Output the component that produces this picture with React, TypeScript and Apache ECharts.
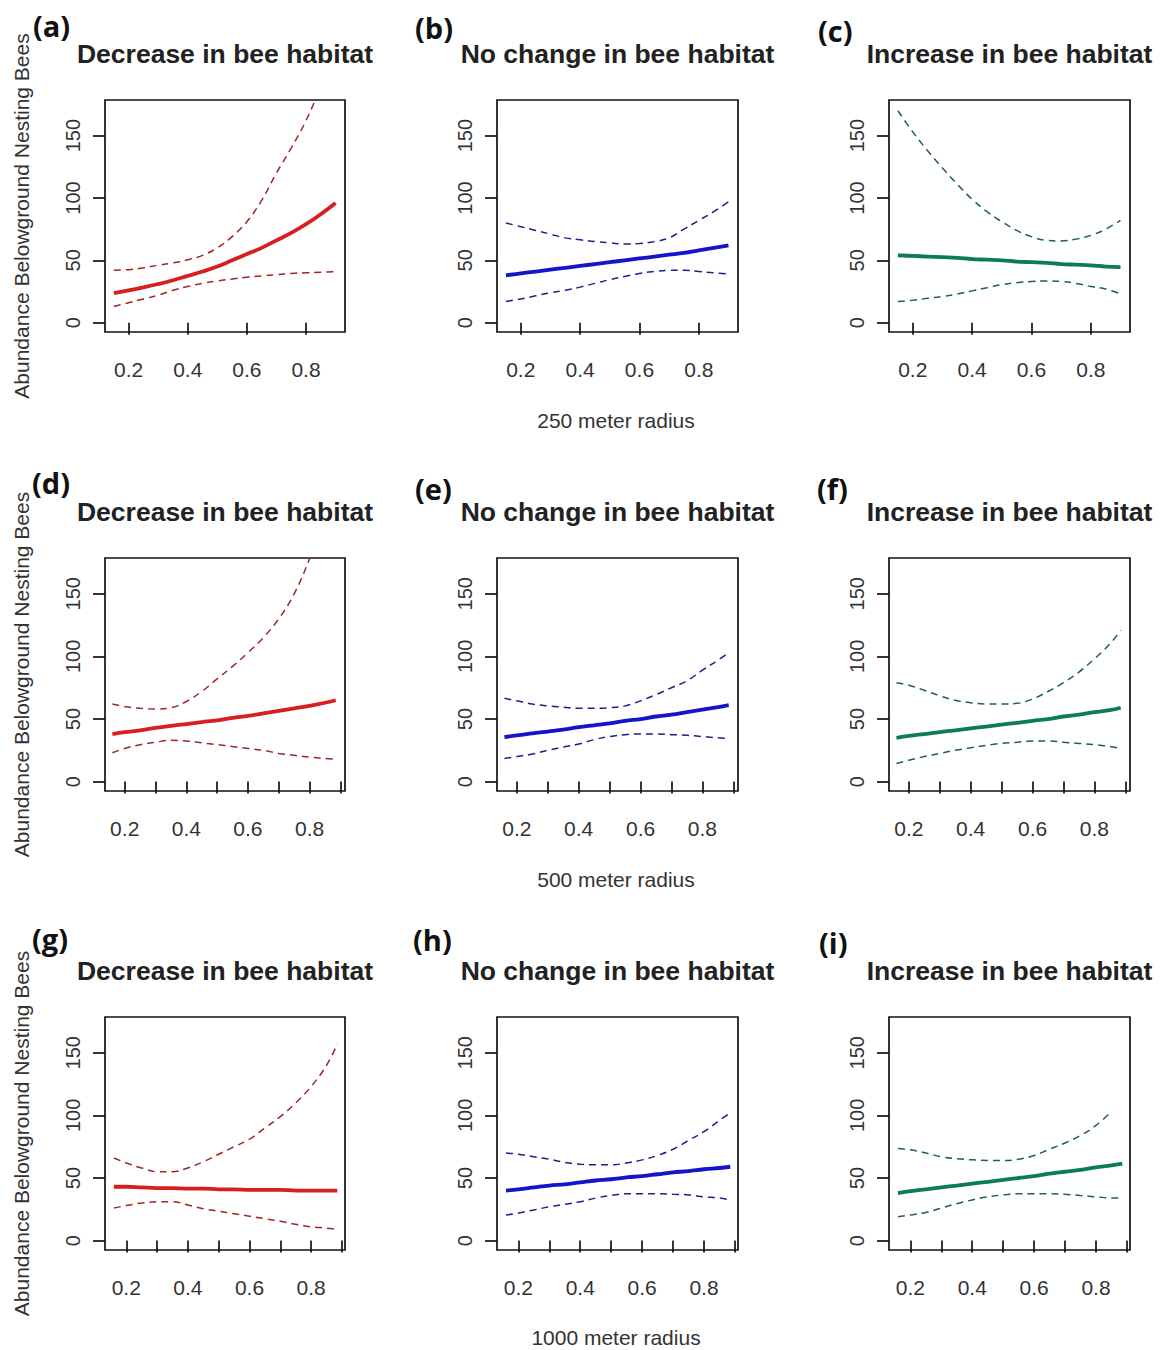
import React, { useEffect, useRef } from "react";
import * as echarts from "echarts";

// x grids of the fitted curves
const XS1 = [0.15, 0.2, 0.25, 0.3, 0.35, 0.4, 0.45, 0.5, 0.55, 0.6, 0.65, 0.7, 0.75, 0.8, 0.85, 0.9];
const XS23 = [0.16, 0.2, 0.25, 0.3, 0.35, 0.4, 0.45, 0.5, 0.55, 0.6, 0.65, 0.7, 0.75, 0.8, 0.85, 0.885];

// (a) 250 m, decrease
const FIT_A = [23.6, 25.8, 28.3, 31, 34, 37.5, 41, 45, 50, 55, 60, 66, 72, 79, 87, 96];
const UP_A = [42, 42.5, 44, 46, 48, 50.5, 54, 60, 69, 81, 98, 120, 140, 162, 190, 225];
const LO_A = [13, 16, 19, 22, 26, 29, 31.5, 33.5, 35, 36.5, 37.5, 38.5, 39.5, 40, 40.5, 41];
// (b) 250 m, no change
const FIT_B = [38, 39.5, 41, 42.5, 44, 45.5, 47, 48.5, 50, 51.5, 53, 54.5, 56, 58, 60, 62];
const UP_B = [80, 77, 74, 71, 68, 66.5, 65, 64, 63, 63.5, 65, 68, 75, 82, 89, 97];
const LO_B = [17, 19, 21.5, 24, 26, 28.5, 31.5, 34.5, 37, 39.5, 41, 42, 42, 41, 40, 39];
// (c) 250 m, increase
const FIT_C = [54, 53.5, 53, 52.5, 52, 51, 50.5, 50, 49, 48.5, 48, 47, 46.5, 46, 45, 44.5];
const UP_C = [170, 153, 138, 124, 111, 99, 89, 81, 74, 69, 66, 65.5, 67, 70, 75, 82];
const LO_C = [17, 18, 19.5, 21, 23, 25.5, 28, 30.5, 32, 33, 33.5, 33, 31.5, 29, 27, 23];
// (d) 500 m, decrease
const FIT_D = [38, 39.5, 41, 43, 44.5, 46, 47.5, 49, 51, 52.5, 54.5, 56.5, 58.5, 60.5, 63, 65];
const UP_D = [62, 60, 58.5, 58, 59, 64, 72, 82, 92, 103, 115, 130, 150, 178, 212, 240];
const LO_D = [23, 26.5, 29.5, 31.5, 33, 32.5, 31, 29.5, 28, 26.5, 25, 22.5, 21, 19.5, 18.5, 18];
// (e) 500 m, no change
const FIT_E = [35.5, 37, 38.5, 40, 41.5, 43.5, 45, 46.5, 48.5, 50, 52, 53.5, 55.5, 57.5, 59.5, 61];
const UP_E = [66.5, 64.5, 62, 60.5, 59.5, 58.5, 58.5, 59, 60.5, 64.5, 69.5, 75, 80.5, 89, 97, 103];
const LO_E = [18.5, 20, 22, 25, 27.5, 30, 33.5, 36, 37.5, 38, 38, 37.5, 37, 36, 35, 34.5];
// (f) 500 m, increase
const FIT_F = [35, 36.5, 38, 39.5, 41, 42.5, 44, 45.5, 47, 48.5, 50, 52, 53.5, 55.5, 57, 59];
const UP_F = [79, 77, 73, 68.5, 65, 63, 62, 62, 62.5, 66, 72, 79, 87.5, 98, 110, 121];
const LO_F = [14.5, 17, 20, 22.5, 25, 27, 29, 30.5, 31.5, 32.5, 32.5, 31.5, 30.5, 29.5, 28, 26.5];
// (g) 1000 m, decrease
const FIT_G = [43, 43, 42.5, 42, 42, 41.5, 41.5, 41, 41, 40.5, 40.5, 40.5, 40, 40, 40, 40];
const UP_G = [66, 62, 58, 55, 55, 58, 63, 69, 75, 81, 90, 99, 110, 123, 140, 157];
const LO_G = [26, 28, 30, 31, 31, 28.5, 25.5, 23.5, 21.5, 19.5, 17.5, 15.5, 13, 11, 10, 9];
// (h) 1000 m, no change
const FIT_H = [40, 41, 42.5, 44, 45, 46.5, 48, 49, 50.5, 51.5, 53, 54.5, 55.5, 57, 58, 59];
const UP_H = [70, 69, 67, 65, 62.5, 61, 60.5, 60.5, 62, 64.5, 68, 73, 80, 87, 96, 102];
const LO_H = [20.5, 22, 24.5, 27, 29, 31, 34, 36, 37.5, 37.5, 37.5, 37, 36.5, 35, 34, 32.5];
// (i) 1000 m, increase
const FIT_I = [38, 39.5, 41, 42.5, 44, 45.5, 47, 48.5, 50, 51.5, 53.5, 55, 56.5, 58.5, 60, 61.5];
const UP_I = [73.5, 72.5, 70, 67, 65.5, 64.5, 64, 64, 65, 68, 73, 78, 84, 92, 103, null];
const LO_I = [19, 20.5, 22.5, 26, 29.5, 32.5, 35, 36.5, 37.5, 37.5, 37.5, 37, 36, 35, 34, 34];

// axis ticks
const Y_TICKS = [0, 50, 100, 150];
const X_LABELS = [0.2, 0.4, 0.6, 0.8];
const X_TICKS_ROW1 = [0.2, 0.4, 0.6, 0.8];
const X_TICKS_ROW23 = [0.2, 0.3, 0.4, 0.5, 0.6, 0.7, 0.8, 0.9];

// texts
const PANEL_TAGS = ["(a)", "(b)", "(c)", "(d)", "(e)", "(f)", "(g)", "(h)", "(i)"];
const COLUMN_TITLES = ["Decrease in bee habitat", "No change in bee habitat", "Increase in bee habitat"];
const ROW_XLABELS = ["250 meter radius", "500 meter radius", "1000 meter radius"];
const Y_TITLE = "Abundance Belowground Nesting Bees";

const COLORS = ["#d81e1e", "#1414c8", "#0d7d50"];
const DASH_COLORS = ["#a02626", "#1e1e8c", "#1d6344"];

const PANEL_DATA = [
  [FIT_A, UP_A, LO_A],
  [FIT_B, UP_B, LO_B],
  [FIT_C, UP_C, LO_C],
  [FIT_D, UP_D, LO_D],
  [FIT_E, UP_E, LO_E],
  [FIT_F, UP_F, LO_F],
  [FIT_G, UP_G, LO_G],
  [FIT_H, UP_H, LO_H],
  [FIT_I, UP_I, LO_I],
];

// layout
const COL_LEFT = [105, 497, 889];
const COL_WIDTH = [240, 241, 241];
const ROW_TOP = [100, 558, 1017];
const ROW_HEIGHT = [232, 233, 233];
const ROW_XRANGE = [
  [0.12, 0.932],
  [0.136, 0.915],
  [0.131, 0.91],
];
const TAG_POS = [
  [33, 25], [415, 27], [818, 30],
  [32, 482], [415, 488], [817, 488],
  [32, 938], [413, 939], [819, 942],
];
const TITLE_Y = [54, 512, 971];
const XNAME_Y = [420, 879, 1337];

const FONT = "'Liberation Sans', Arial, Helvetica, sans-serif";

function buildOption() {
  const grid: any[] = [];
  const xAxis: any[] = [];
  const yAxis: any[] = [];
  const series: any[] = [];
  const graphic: any[] = [];

  for (let p = 0; p < 9; p++) {
    const r = Math.floor(p / 3);
    const c = p % 3;
    grid.push({
      left: COL_LEFT[c],
      top: ROW_TOP[r],
      width: COL_WIDTH[c],
      height: ROW_HEIGHT[r],
      show: true,
      borderColor: "#111",
      borderWidth: 1.7,
      backgroundColor: "transparent",
      containLabel: false,
    });
    const xt = r === 0 ? X_TICKS_ROW1 : X_TICKS_ROW23;
    xAxis.push({
      type: "value",
      gridIndex: p,
      min: ROW_XRANGE[r][0],
      max: ROW_XRANGE[r][1],
      axisLine: { show: false },
      splitLine: { show: false },
      axisTick: {
        show: true,
        inside: false,
        length: 12,
        customValues: xt,
        lineStyle: { color: "#111", width: 1.7 },
      },
      axisLabel: {
        show: true,
        customValues: X_LABELS,
        formatter: (v: number) => v.toFixed(1),
        margin: 27,
        fontSize: 21,
        fontFamily: FONT,
        color: "#333",
      },
    });
    yAxis.push({
      type: "value",
      gridIndex: p,
      min: -7.5,
      max: 178.6,
      axisLine: { show: false },
      splitLine: { show: false },
      axisTick: {
        show: true,
        inside: false,
        length: 12,
        customValues: Y_TICKS,
        lineStyle: { color: "#111", width: 1.7 },
      },
      axisLabel: {
        show: true,
        customValues: Y_TICKS,
        rotate: 90,
        margin: 22,
        fontSize: 20,
        fontFamily: FONT,
        color: "#333",
      },
    });
    const xs = r === 0 ? XS1 : XS23;
    const [fit, up, lo] = PANEL_DATA[p];
    const pair = (arr: (number | null)[]) => xs.map((x, i) => [x, arr[i]]);
    const dashed = (arr: (number | null)[]) => ({
      type: "line",
      xAxisIndex: p,
      yAxisIndex: p,
      data: pair(arr),
      showSymbol: false,
      smooth: 0.4,
      silent: true,
      clip: true,
      lineStyle: { color: DASH_COLORS[c], width: 1.5, type: [7, 5] },
    });
    series.push(dashed(up));
    series.push(dashed(lo));
    series.push({
      type: "line",
      xAxisIndex: p,
      yAxisIndex: p,
      data: pair(fit),
      showSymbol: false,
      smooth: 0.4,
      silent: true,
      clip: true,
      lineStyle: { color: COLORS[c], width: 3.8 },
    });

    graphic.push({
      type: "text",
      x: TAG_POS[p][0],
      y: TAG_POS[p][1],
      style: {
        text: PANEL_TAGS[p],
        fontSize: 29,
        fontWeight: "bold",
        fontFamily: "'Open Sans', 'DejaVu Sans', sans-serif",
        fill: "#111",
        align: "left",
        verticalAlign: "middle",
      },
    });
    graphic.push({
      type: "text",
      x: COL_LEFT[c] + COL_WIDTH[c] / 2,
      y: TITLE_Y[r],
      style: {
        text: COLUMN_TITLES[c],
        fontSize: 26.5,
        fontWeight: "bold",
        fontFamily: FONT,
        fill: "#222",
        align: "center",
        verticalAlign: "middle",
      },
    });
  }

  for (let r = 0; r < 3; r++) {
    graphic.push({
      type: "text",
      x: 21,
      y: ROW_TOP[r] + ROW_HEIGHT[r] / 2,
      rotation: Math.PI / 2,
      style: {
        text: Y_TITLE,
        fontSize: 21,
        fontFamily: FONT,
        fill: "#333",
        align: "center",
        verticalAlign: "middle",
      },
    });
    graphic.push({
      type: "text",
      x: 616,
      y: XNAME_Y[r],
      style: {
        text: ROW_XLABELS[r],
        fontSize: 21,
        fontFamily: FONT,
        fill: "#333",
        align: "center",
        verticalAlign: "middle",
      },
    });
  }

  return {
    animation: false,
    backgroundColor: "#ffffff",
    grid,
    xAxis,
    yAxis,
    series,
    graphic,
  };
}

export default function App() {
  const ref = useRef<HTMLDivElement>(null);
  useEffect(() => {
    if (!ref.current) return;
    const chart = echarts.init(ref.current, undefined, { renderer: "svg" });
    chart.setOption(buildOption());
    return () => chart.dispose();
  }, []);
  return (
    <div
      ref={ref}
      style={{ position: "absolute", left: 0, top: 0, width: 1162, height: 1350 }}
    />
  );
}
